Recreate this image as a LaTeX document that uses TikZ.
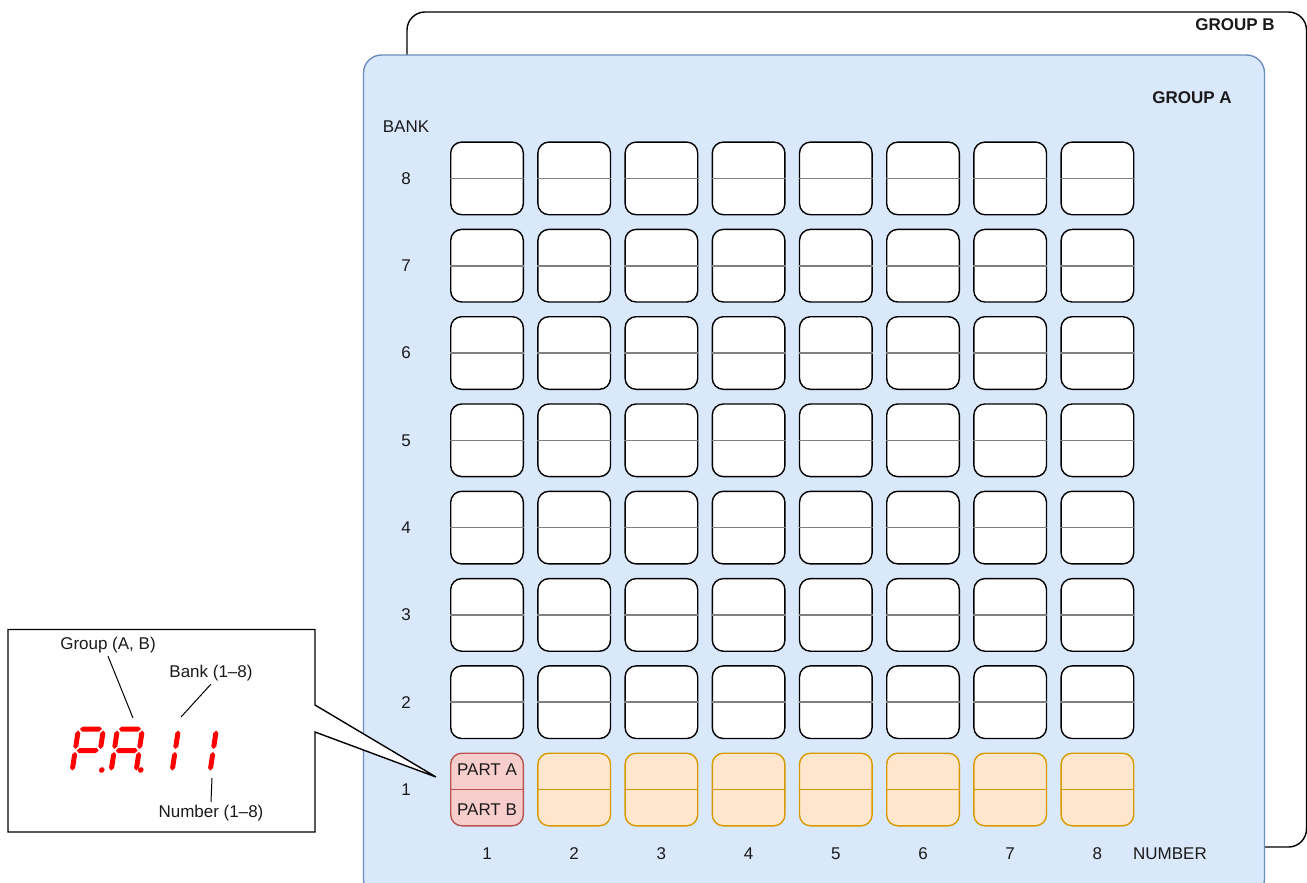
\documentclass[tikz,border=0pt]{standalone}
\usepackage{fontspec}
\setmainfont{Liberation Sans}
\definecolor{grpAfill}{HTML}{DAE8FC}
\definecolor{grpAline}{HTML}{6C8EBF}
\definecolor{orfill}{HTML}{FFE6CC}
\definecolor{orline}{HTML}{D79B00}
\definecolor{rdfill}{HTML}{F8CECC}
\definecolor{rdline}{HTML}{B85450}
\definecolor{midgray}{HTML}{808080}
\definecolor{segred}{HTML}{FF0000}
\definecolor{txt}{HTML}{1A1A1A}
\newcommand{\segH}[3]{\fill ({#1+1.5},#3) -- ({#1+4},{#3+2.5}) -- ({#2-4},{#3+2.5}) -- ({#2-1.5},#3) -- ({#2-4},{#3-2.5}) -- ({#1+4},{#3-2.5}) -- cycle;}
\newcommand{\segV}[3]{\fill (#1,{#2+1.5}) -- ({#1+2.5},{#2+4}) -- ({#1+2.5},{#3-4}) -- (#1,{#3-1.5}) -- ({#1-2.5},{#3-4}) -- ({#1-2.5},{#2+4}) -- cycle;}
\begin{document}
\begin{tikzpicture}[x=1pt,y=-1pt,
  font=\fontsize{17}{20}\selectfont,
  cellbox/.style={draw=black, fill=white, line width=1.4pt, rounded corners=11pt,
    minimum width=72.6pt, minimum height=72.6pt, inner sep=0pt},
  orcell/.style={cellbox, draw=orline, fill=orfill},
  rdcell/.style={cellbox, draw=rdline, fill=rdfill},
  midline/.style={line width=1.6pt, draw=midgray},
  lbl/.style={text=txt, inner sep=3pt},
  grplbl/.style={text=txt, font=\fontsize{17}{20}\selectfont\bfseries, inner sep=0pt},
  leader/.style={line width=1pt, draw=black}
]
\useasboundingbox (0,0) rectangle (1307,883);
\fill[white] (0,0) rectangle (1307,883);

% Group B
\draw[line width=1.4pt, rounded corners=18pt, fill=white] (407,12) rectangle (1306.5,847);
\node[grplbl] (grpB) at (1235,25) {GROUP B};

% Group A
\draw[line width=1.4pt, rounded corners=18pt, draw=grpAline, fill=grpAfill] (363.5,55) rectangle (1264.5,897);
\node[grplbl] (grpA) at (1192,98) {GROUP A};

\node[lbl] (banklbl) at (406,127) {BANK};
\node[lbl] (numlbl) at (1170,854) {NUMBER};

% grid
\foreach \r in {1,...,8}{
  \pgfmathsetmacro{\yy}{789.5-(\r-1)*87.3}
  \node[lbl] (bank-\r) at (406,\yy) {\r};
}
\foreach \c in {1,...,8}{
  \pgfmathsetmacro{\xx}{487+(\c-1)*87.2}
  \node[lbl] (num-\c) at (\xx,854) {\c};
}
\foreach \r in {2,...,8}{
  \foreach \c in {1,...,8}{
    \pgfmathsetmacro{\xx}{487+(\c-1)*87.2}
    \pgfmathsetmacro{\yy}{789.5-(\r-1)*87.3}
    \node[cellbox] (cell-\r-\c) at (\xx,\yy) {};
    \draw[midline] (cell-\r-\c.west) -- (cell-\r-\c.east);
  }
}
\foreach \c in {2,...,8}{
  \pgfmathsetmacro{\xx}{487+(\c-1)*87.2}
  \node[orcell] (cell-1-\c) at (\xx,789.5) {};
  \draw[midline, draw=orline] (cell-1-\c.west) -- (cell-1-\c.east);
}
\node[rdcell] (cell-1-1) at (487,789.5) {};
\draw[midline, draw=rdline] (cell-1-1.west) -- (cell-1-1.east);
\node[lbl] (partA) at (487,770) {PART A};
\node[lbl] (partB) at (487,810) {PART B};

% callout
\coordinate (tip) at (436,777);
\draw[line width=1.4pt, fill=white, line join=miter]
  (315,705) -- (315,629.5) -- (8,629.5) -- (8,832) -- (315,832) -- (315,732) -- (tip) -- cycle;

% seven segment display "P.A. 1 1"
\begin{scope}[shift={(72,772)}, y=1pt, xslant=0.15, fill=segred]
  \segH{0}{25}{43} \segV{25}{21.5}{43} \segH{0}{25}{21.5} \segV{0}{21.5}{43} \segV{0}{0}{21.5}
  \fill (29.5,2) circle (2.8);
\end{scope}
\begin{scope}[shift={(111,772)}, y=1pt, xslant=0.15, fill=segred]
  \segH{0}{25}{43} \segV{25}{21.5}{43} \segV{25}{0}{21.5} \segH{0}{25}{21.5} \segV{0}{21.5}{43} \segV{0}{0}{21.5}
  \fill (29.5,2) circle (2.8);
\end{scope}
\begin{scope}[shift={(148,772)}, y=1pt, xslant=0.15, fill=segred]
  \segV{24}{21.5}{43} \segV{24}{0}{21.5}
\end{scope}
\begin{scope}[shift={(186,772)}, y=1pt, xslant=0.15, fill=segred]
  \segV{24}{21.5}{43} \segV{24}{0}{21.5}
\end{scope}

\node[lbl] (glabel) at (108,645) {Group (A, B)};
\node[lbl] (blabel) at (211,673) {Bank (1–8)};
\node[lbl] (nlabel) at (211,813) {Number (1–8)};
\coordinate (gpt) at (133,718);
\coordinate (bpt) at (181,717);
\coordinate (npt) at (212,778);
\draw[leader] (glabel.south) -- (gpt);
\draw[leader] (blabel.south) -- (bpt);
\draw[leader] (nlabel.north) -- (npt);
\end{tikzpicture}
\end{document}
